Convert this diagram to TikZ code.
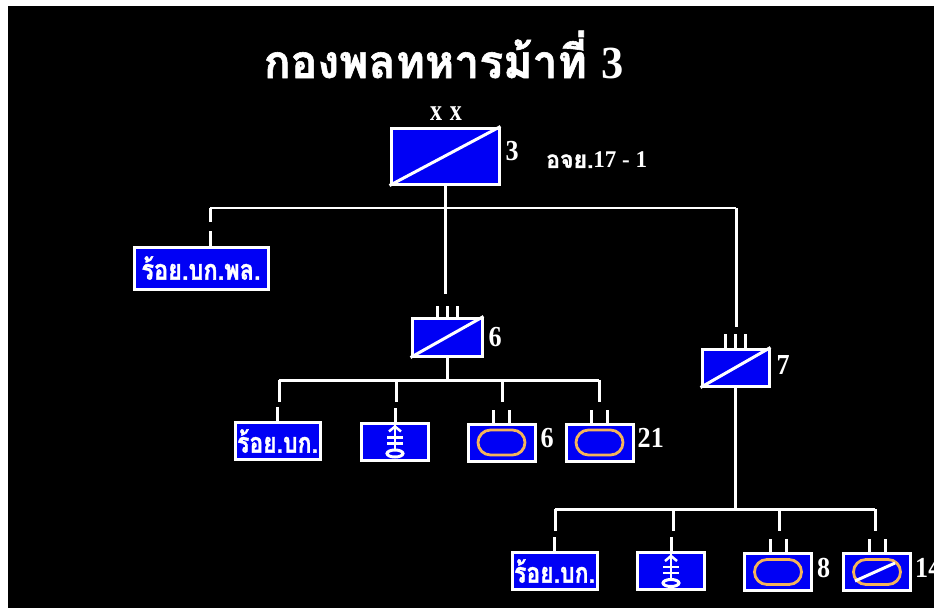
\documentclass[tikz,border=0pt]{standalone}
\usepackage{xcolor}
\usepackage{fontspec}
\usepackage{graphicx}
\setmainfont{Liberation Serif}
\newfontfamily\thaifont[Script=Thai,BoldFeatures={FakeBold=1.3}]{Loma}
\usetikzlibrary{positioning,shapes.misc}
\definecolor{unitblue}{RGB}{0,0,245}
\definecolor{ovalorange}{RGB}{245,180,90}
\newcommand{\numtext}[1]{\scalebox{0.9}[1]{#1}}

\begin{document}
\begin{tikzpicture}[
	x=1pt, y=-1pt,
	unitnode/.style={rectangle, draw=white, fill=unitblue, line width=3pt, inner sep=0pt},
	smallnode/.style={unitnode, minimum width=67pt, minimum height=37pt},
	bignode/.style={unitnode, minimum width=85pt, minimum height=37pt},
	ovalnode/.style={rounded rectangle, draw=ovalorange, line width=2.8pt, minimum width=47pt, minimum height=25pt, inner sep=0pt},
	numnode/.style={text=white, font=\bfseries\fontsize{29}{29}\selectfont, inner sep=0pt, anchor=west},
	line/.style={draw=white, line width=3pt},
	thinline/.style={draw=white, line width=2.5pt},
	]
	\useasboundingbox (0,0) rectangle (934,608);
	%Background
	\fill[white] (0,0) rectangle (934,608);
	\fill[black] (8,6) rectangle (934,608);

	%Title
	\node[text=white, inner sep=0pt, anchor=base](title) at (444,78){\scalebox{0.89}[0.92]{\thaifont\bfseries\fontsize{50}{50}\selectfont กองพลทหารม้าที่ {\rmfamily 3}}};

	%Nodes
	\node[unitnode, minimum width=108pt, minimum height=56pt](hq) at (445,156){};
	\node[unitnode, minimum width=134pt, minimum height=42pt, text=white](hqco) at (201,268){\scalebox{0.84}[1]{\thaifont\bfseries\fontsize{28}{28}\selectfont ร้อย.บก.พล.}};
	\node[unitnode, minimum width=70pt, minimum height=38pt](bn6) at (447,337){};
	\node[unitnode, minimum width=67pt, minimum height=37pt](bn7) at (735.5,367.5){};
	\node[bignode, text=white](co6) at (277.5,441){\scalebox{0.82}[1]{\thaifont\bfseries\fontsize{28}{28}\selectfont ร้อย.บก.}};
	\node[smallnode](key6) at (395,441.5){};
	\node[smallnode](sq6) at (501.5,442.5){};
	\node[smallnode](sq21) at (599.5,442.5){};
	\node[bignode, text=white](co7) at (554.5,571){\scalebox{0.82}[1]{\thaifont\bfseries\fontsize{28}{28}\selectfont ร้อย.บก.}};
	\node[smallnode](key7) at (671,571){};
	\node[smallnode](sq8) at (778,572){};
	\node[smallnode](sq14) at (877,572){};

	%Marks
	\foreach \unit in {hq,bn6,bn7}
		\draw[line] (\unit.south west) -- (\unit.north east);
	\foreach \unit in {sq6,sq21,sq8,sq14}
		\node[ovalnode](oval\unit) at (\unit){};
	\draw[line] ([shift={(-22,9)}]sq14.center) -- ([shift={(18,-9)}]sq14.center);
	\foreach \unit in {key6,key7}{
		\draw[thinline] (\unit.north) -- ++(0,29);
		\draw[thinline] ([shift={(-6,10)}]\unit.north) -- ++(6,-5) -- ++(6,5);
		\draw[thinline] ([shift={(-8,16)}]\unit.north) -- ++(16,0);
		\draw[thinline] ([shift={(-8,22)}]\unit.north) -- ++(16,0);
		\draw[line] ([yshift=-32pt]\unit.north) ellipse (8pt and 3.5pt);
	}

	%Texts
	\node[text=white, inner sep=0pt](xx) at (446,114){\scalebox{0.8}[1]{\bfseries\fontsize{30}{30}\selectfont x\hspace{10pt}x}};
	\node[numnode, right=5pt of hq.east, yshift=5pt](numhq){\numtext{3}};
	\node[text=white, inner sep=0pt, anchor=west](ref) at (546,160){\scalebox{0.96}[1]{\thaifont\bfseries\fontsize{24}{24}\selectfont อจย.{\rmfamily 17 - 1}}};
	\node[numnode, right=5pt of bn6.east](num6){\numtext{6}};
	\node[numnode, right=6pt of bn7.east, yshift=2.5pt](num7){\numtext{7}};
	\node[numnode, right=4pt of sq6.east, yshift=4.5pt](numa){\numtext{6}};
	\node[numnode, right=3pt of sq21.east, yshift=5pt](numb){\numtext{21}};
	\node[numnode, right=4pt of sq8.east, yshift=4pt](numc){\numtext{8}};
	\node[numnode, right=3pt of sq14.east, yshift=4pt](numd){\numtext{14}};

	%Lines
	\coordinate (hqleft) at (210,208);
	\coordinate (hqright) at (736,208);
	\coordinate (hqstub) at (210,222);
	\coordinate (hqend) at (445,294);
	\coordinate (rightend) at (736,327);
	\draw[line] (hq.south) -- (hqend);
	\draw[thinline] (hqleft) -- (hqright);
	\draw[line] (hqstub) -- (hqleft);
	\draw[line] (hqright) -- (rightend);
	\draw[line] (hqco.north -| hqstub) -- ++(0,-15);

	\coordinate (busa) at (279,380);
	\coordinate (busb) at (599,380);
	\coordinate (busc) at (555,509);
	\coordinate (busd) at (875,509);
	\draw[line] (bn6.south) -- (bn6.south |- busa);
	\draw[line] (bn7.south) -- (bn7.south |- busc);
	\draw[line] (busa) -- (busb);
	\draw[line] (busc) -- (busd);

	%Drops
	\foreach \xpos in {279,396,502,599}{
		\draw[line] (\xpos,380) -- (\xpos,402);
	}
	\foreach \xpos in {555,673,779,875}{
		\draw[line] (\xpos,509) -- (\xpos,531);
	}
	\foreach \unit in {co6,key6,co7,key7}
		\draw[line] (\unit.north) -- ++(0,-14);

	%Ticks
	\foreach \unit in {sq6,sq21,sq8,sq14}{
		\draw[line] ([xshift=-8pt]\unit.north) -- ++(0,-13);
		\draw[line] ([xshift=8pt]\unit.north) -- ++(0,-13);
	}
	\foreach \unit/\len in {bn6/11,bn7/14}{
		\foreach \off in {-10,0,10}
			\draw[line] ([xshift=\off pt]\unit.north) -- ++(0,-\len);
	}
\end{tikzpicture}
\end{document}
